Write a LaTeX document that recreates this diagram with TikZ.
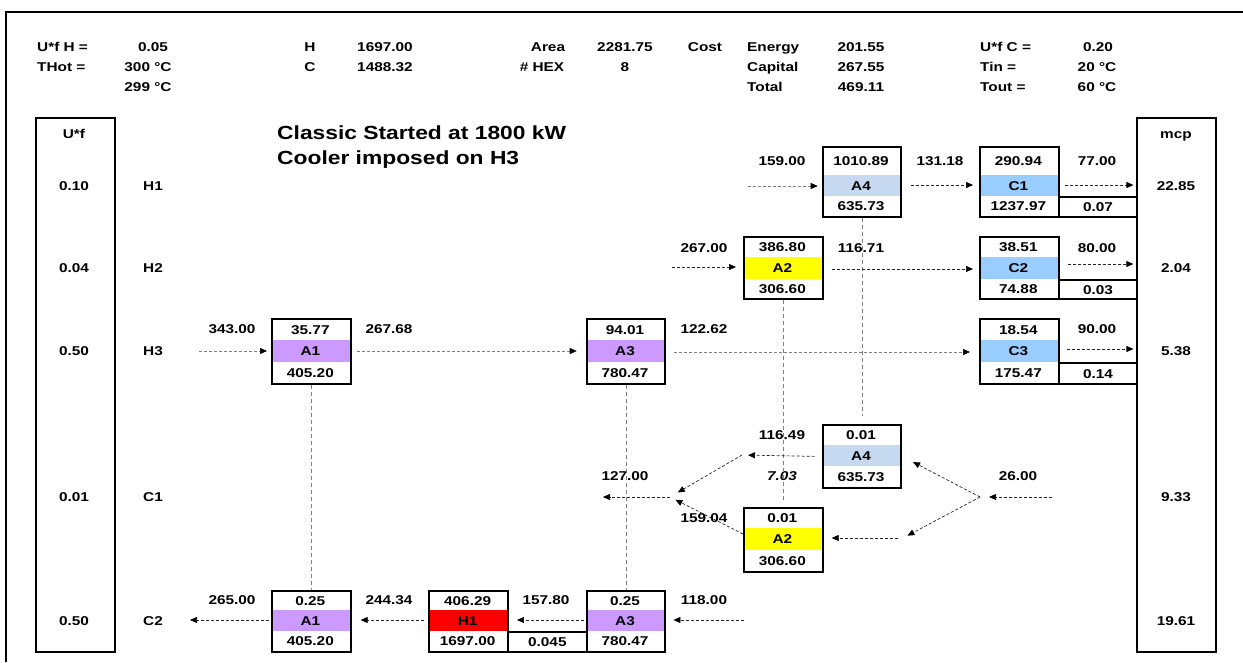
\documentclass[tikz,border=0pt]{standalone}
\usepackage{fontspec}
\setmainfont{Liberation Sans}[FakeStretch=1.2]
\usetikzlibrary{arrows.meta}
\definecolor{purp}{HTML}{CC99FF}
\definecolor{lblue}{HTML}{C6D9F0}
\definecolor{cblue}{HTML}{99CCFF}
\definecolor{yel}{HTML}{FFFF00}
\definecolor{hred}{HTML}{FF0000}
\def\hxsplit#1/#2\relax{\def\hxtop{#1}\def\hxbot{#2}}
\newcommand\hx[9]{%
  \hxsplit#9\relax
  \fill[#7] (#2,#4) rectangle ({#2+78.67},#5);
  \node[bx,minimum width=78.67pt,minimum height={(#6-#3)*1pt}] (#1) at (#2,#3) {};
  \node[t] (#1-t) at ({#2+39.33},{(#3+#4)/2+0.5}) {\hxtop};
  \node[t] (#1-m) at ({#2+39.33},{(#4+#5)/2}) {#8};
  \node[t] (#1-b) at ({#2+39.33},{(#5+#6)/2}) {\hxbot};
}
\begin{document}
\begin{tikzpicture}[x=1pt,y=-1pt,
  t/.style={font=\bfseries\fontsize{12.8}{14}\selectfont,inner sep=0pt,text height=9.3pt,text depth=0pt},
  tl/.style={t,anchor=west},
  ttl/.style={font=\bfseries\fontsize{19}{21}\selectfont,inner sep=0pt,anchor=west,text height=13.6pt,text depth=0pt},
  bx/.style={draw,line width=2pt,inner sep=0pt,anchor=north west},
  arr/.style={dash pattern=on 3pt off 2pt,line width=0.7pt,draw=black!85,-{Triangle[black,length=7pt,width=6pt]}},
  arrg/.style={arr,draw=black!50},
  vline/.style={dash pattern=on 4pt off 3pt,draw=black!50,line width=0.7pt}
]
\useasboundingbox (0,0) rectangle (1243,662);
% frame
\draw[line width=2pt] (1243,12) -- (6,12) -- (6,662);
% header
\node[tl] (hufh) at (37,47) {U*f H =};
\node[t] (hufhv) at (153,47) {0.05};
\node[tl] (hthot) at (37,67) {THot =};
\node[t] (hthotv) at (148,67) {300 °C};
\node[t] (hthotw) at (148,87) {299 °C};
\node[t] (hH) at (310,47) {H};
\node[t] (hHv) at (385,47) {1697.00};
\node[t] (hC) at (310,67) {C};
\node[t] (hCv) at (385,67) {1488.32};
\node[t] (harea) at (548,47) {Area};
\node[t] (hareav) at (625,47) {2281.75};
\node[t] (hhex) at (542,67) {\# HEX};
\node[t] (hhexv) at (625,67) {8};
\node[t] (hcost) at (705,47) {Cost};
\node[tl] (hen) at (747,47) {Energy};
\node[tl] (hcap) at (747,67) {Capital};
\node[tl] (htot) at (747,87) {Total};
\node[t] (henv) at (861,47) {201.55};
\node[t] (hcapv) at (861,67) {267.55};
\node[t] (htotv) at (861,87) {469.11};
\node[tl] (hufc) at (980,47) {U*f C =};
\node[tl] (htin) at (980,67) {Tin =};
\node[tl] (htout) at (980,87) {Tout =};
\node[t] (hufcv) at (1098,47) {0.20};
\node[t] (htinv) at (1097,67) {20 °C};
\node[t] (htoutv) at (1097,87) {60 °C};
% title
\node[ttl] (title1) at (277,133) {Classic Started at 1800 kW};
\node[ttl] (title2) at (277,158) {Cooler imposed on H3};
% side columns
\node[bx,minimum width=78.67pt,minimum height=534pt] (uf) at (35,117) {};
\node[bx,minimum width=78.67pt,minimum height=534pt] (mcp) at (1136.4,117) {};
\node[t] (uft) at (74,134) {U*f};
\node[t] (uf1) at (74,186) {0.10};
\node[t] (uf2) at (74,268) {0.04};
\node[t] (uf3) at (74,351) {0.50};
\node[t] (uf4) at (74,497) {0.01};
\node[t] (uf5) at (74,621) {0.50};
\node[t] (mcpt) at (1176,134) {mcp};
\node[t] (mcp1) at (1176,186) {22.85};
\node[t] (mcp2) at (1176,268) {2.04};
\node[t] (mcp3) at (1176,351) {5.38};
\node[t] (mcp4) at (1176,497) {9.33};
\node[t] (mcp5) at (1176,621) {19.61};
\node[t] (sH1) at (153,186) {H1};
\node[t] (sH2) at (153,268) {H2};
\node[t] (sH3) at (153,351) {H3};
\node[t] (sC1) at (153,497) {C1};
\node[t] (sC2) at (153,621) {C2};
% exchangers
\hx{hA4}{821.7}{146}{175}{196}{216}{lblue}{A4}{1010.89/635.73}
\hx{hC1}{979}{146}{175}{196}{216}{cblue}{C1}{290.94/1237.97}
\hx{hA2}{743}{236}{257}{279}{298}{yel}{A2}{386.80/306.60}
\hx{hC2}{979}{236}{257}{279}{298}{cblue}{C2}{38.51/74.88}
\hx{hA1}{271}{318}{340}{362}{383}{purp}{A1}{35.77/405.20}
\hx{hA3}{585.7}{318}{340}{362}{383}{purp}{A3}{94.01/780.47}
\hx{hC3}{979}{318}{340}{362}{383}{cblue}{C3}{18.54/175.47}
\hx{cA4}{821.7}{424}{445}{466}{487}{lblue}{A4}{0.01/635.73}
\hx{cA2}{743}{507}{528}{550}{571}{yel}{A2}{0.01/306.60}
\hx{cA1}{271}{590}{610}{631}{651}{purp}{A1}{0.25/405.20}
\hx{cH1}{428.3}{590}{610}{631}{651}{hred}{H1}{406.29/1697.00}
\hx{cA3}{585.7}{590}{610}{631}{651}{purp}{A3}{0.25/780.47}
% extra cells
\node[bx,minimum width=78.67pt,minimum height=20pt] (xC1) at (1057.7,196) {};
\node[t] at (xC1.center) {0.07};
\node[bx,minimum width=78.67pt,minimum height=19pt] (xC2) at (1057.7,279) {};
\node[t] at (xC2.center) {0.03};
\node[bx,minimum width=78.67pt,minimum height=21pt] (xC3) at (1057.7,362) {};
\node[t] at (xC3.center) {0.14};
\node[bx,minimum width=78.67pt,minimum height=20pt] (xH1) at (507,631) {};
\node[t] at (xH1.center) {0.045};
% stream labels
\node[t] (l15900) at (782,161) {159.00};
\node[t] (l13118) at (940,161) {131.18};
\node[t] (l7700) at (1097,161) {77.00};
\node[t] (l26700) at (704,248) {267.00};
\node[t] (l11671) at (861,248) {116.71};
\node[t] (l8000) at (1097,248) {80.00};
\node[t] (l34300) at (232,329) {343.00};
\node[t] (l26768) at (389,329) {267.68};
\node[t] (l12262) at (704,329) {122.62};
\node[t] (l9000) at (1097,329) {90.00};
\node[t] (l11649) at (782,435) {116.49};
\node[t] (l12700) at (625,476) {127.00};
\node[t,font=\bfseries\itshape\fontsize{12.8}{14}\selectfont] (l703) at (782,476) {7.03};
\node[t] (l2600) at (1018,476) {26.00};
\node[t] (l15904) at (704,518) {159.04};
\node[t] (l26500) at (232,600) {265.00};
\node[t] (l24434) at (389,600) {244.34};
\node[t] (l15780) at (546,600) {157.80};
\node[t] (l11800) at (704,600) {118.00};
% vertical links
\draw[vline] (hA1.south) -- (cA1.north);
\draw[vline] (hA3.south) -- (cA3.north);
\draw[vline,shorten >=5pt] (hA2.south) -- (cA2.north);
\draw[vline,shorten >=8pt] (hA4.south) -- (cA4.north);
% H1
\coordinate (h1in) at (748,186);
\draw[arrg,shorten >=4pt] (h1in) -- (hA4.west |- h1in);
\draw[arr,shorten <=9pt,shorten >=6pt] (hA4.east |- 0,185) -- (hC1.west |- 0,185);
\draw[arr,shorten <=5pt,shorten >=3pt] (hC1.east |- 0,185) -- (mcp.west |- 0,185);
% H2
\coordinate (h2in) at (672,267);
\draw[arr,shorten >=7pt] (h2in) -- (hA2.west |- h2in);
\draw[arr,shorten <=8pt,shorten >=6pt] (hA2.east |- 0,269) -- (hC2.west |- 0,269);
\draw[arr,shorten <=8pt,shorten >=3pt] (hC2.east |- 0,264) -- (mcp.west |- 0,264);
% H3
\coordinate (h3in) at (199,351);
\draw[arrg,shorten >=4pt] (h3in) -- (hA1.west |- h3in);
\draw[arrg,shorten <=5pt,shorten >=9pt] (hA1.east |- 0,351) -- (hA3.west |- 0,351);
\draw[arrg,shorten <=8pt,shorten >=9pt] (hA3.east |- 0,352) -- (hC3.west |- 0,352);
\draw[arr,shorten <=7pt,shorten >=3pt] (hC3.east |- 0,349) -- (mcp.west |- 0,349);
% C1 split
\coordinate (c1in) at (1052,497);
\coordinate (c1split) at (980,497);
\coordinate (c1j) at (903,538);
\coordinate (c1k) at (742,455);
\coordinate (c1merge) at (670,497);
\coordinate (c1out) at (603,497);
\draw[arr,shorten >=9pt] (c1in) -- (c1split);
\draw[arr,shorten >=12pt] (c1split) -- (cA4.east);
\draw[arr,shorten >=5pt] (c1split) -- (c1j);
\draw[arr,shorten <=5pt,shorten >=8pt] (c1j) -- (cA2.east |- c1j);
\draw[arr,shorten <=7pt,shorten >=6pt] (cA4.west) -- (c1k);
\draw[arr,shorten >=9pt] (c1k) -- (c1merge);
\draw[arr,shorten >=6pt] ([yshift=6pt]cA2.west) -- (c1merge);
\draw[arr] (c1merge) -- (c1out);
% C2
\coordinate (c2in) at (744,620);
\coordinate (c2out) at (190,620);
\draw[arr,shorten >=7pt] (c2in) -- (cA3.east |- c2in);
\draw[arr,shorten <=2pt,shorten >=8pt] (cA3.west |- c2in) -- (cH1.east |- c2in);
\draw[arr,shorten <=4pt,shorten >=9pt] (cH1.west |- c2in) -- (cA1.east |- c2in);
\draw[arr,shorten <=2pt] (cA1.west |- c2in) -- (c2out);
\end{tikzpicture}
\end{document}
